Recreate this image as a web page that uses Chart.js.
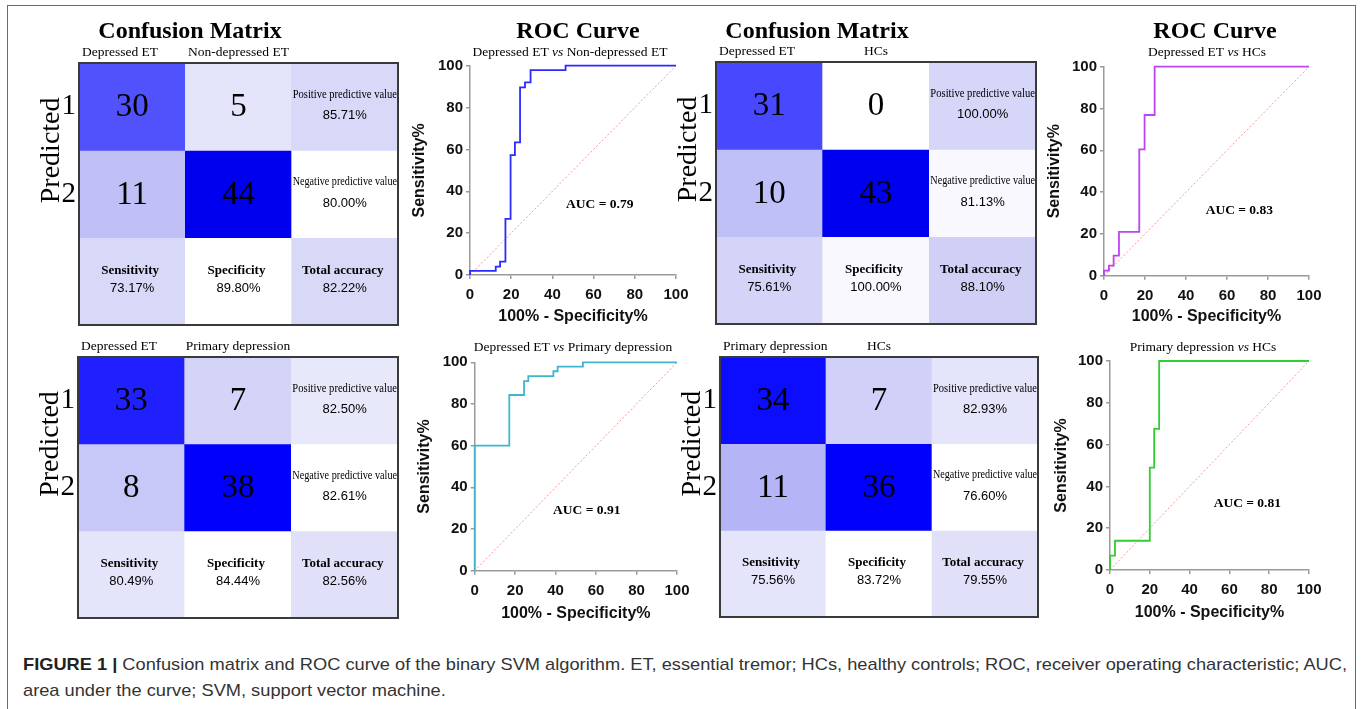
<!DOCTYPE html>
<html>
<head>
<meta charset="utf-8">
<title>Confusion matrix and ROC curves</title>
<script src="https://cdn.jsdelivr.net/npm/chart.js@4.4.1/dist/chart.umd.min.js"></script>
<style>
  html, body { margin: 0; padding: 0; background: #fff; }
  #stage { position: relative; width: 1363px; height: 709px; overflow: hidden; background: #fff; }
  #stage canvas { position: absolute; left: 0; top: 0; pointer-events: none; }
  #frame { position: absolute; left: 7px; top: 5px; width: 1349px; height: 730px;
           border: 1.5px solid #6b6b6b; box-sizing: border-box; }
  .caption { position: absolute; left: 23px; font-family: "Liberation Sans", Arial, Helvetica, sans-serif;
             font-size: 17px; line-height: 20px; color: #333; white-space: nowrap; transform-origin: 0 50%; }
  .caption b { color: #222; }
</style>
</head>
<body>
<div id="stage">
  <div id="frame"></div>
  <div class="caption" id="cap1" style="top:655px"><b>FIGURE 1 |</b> Confusion matrix and ROC curve of the binary SVM algorithm. ET, essential tremor; HCs, healthy controls; ROC, receiver operating characteristic; AUC,</div>
  <div class="caption" id="cap2" style="top:681px">area under the curve; SVM, support vector machine.</div>
</div>
<script>
// ---------- data ----------
const metricNames = ["Positive predictive value", "Negative predictive value", "Sensitivity", "Specificity", "Total accuracy"];
const predictedRows = ["1", "2"];

const cm1Classes = ["Depressed ET", "Non-depressed ET"];
const cm1Counts = [[30, 5], [11, 44]];
const cm1Metrics = ["85.71%", "80.00%", "73.17%", "89.80%", "82.22%"];

const cm2Classes = ["Depressed ET", "HCs"];
const cm2Counts = [[31, 0], [10, 43]];
const cm2Metrics = ["100.00%", "81.13%", "75.61%", "100.00%", "88.10%"];

const cm3Classes = ["Depressed ET", "Primary depression"];
const cm3Counts = [[33, 7], [8, 38]];
const cm3Metrics = ["82.50%", "82.61%", "80.49%", "84.44%", "82.56%"];

const cm4Classes = ["Primary depression", "HCs"];
const cm4Counts = [[34, 7], [11, 36]];
const cm4Metrics = ["82.93%", "76.60%", "75.56%", "83.72%", "79.55%"];

// ROC operating points (100% - specificity, sensitivity), in order
const roc1Groups = ["Depressed ET", "Non-depressed ET"];
const roc1Fpr = [0, 0, 12.5, 14.6, 17.2, 19.7, 21.8, 24.3, 26.7, 29.4, 46.4, 100];
const roc1Tpr = [0, 2, 4, 6.4, 26.8, 57.3, 63.4, 89.6, 92, 97.9, 100, 100];
const roc1Auc = 0.79;

const roc2Groups = ["Depressed ET", "HCs"];
const roc2Fpr = [0, 0, 2.4, 4.7, 7.3, 17.2, 19.8, 24.7, 100];
const roc2Tpr = [0, 2.4, 4.8, 9.6, 21, 60.4, 76.9, 100, 100];
const roc2Auc = 0.83;

const roc3Groups = ["Depressed ET", "Primary depression"];
const roc3Fpr = [0, 0, 17.1, 24.4, 26.5, 38.9, 41, 53.5, 100];
const roc3Tpr = [0, 60, 84.3, 91, 93.4, 95.7, 97.9, 100, 100];
const roc3Auc = 0.91;

const roc4Groups = ["Primary depression", "HCs"];
const roc4Fpr = [0, 0, 2.5, 20, 22.2, 24.7, 100];
const roc4Tpr = [0, 6.9, 14, 49, 67.5, 100, 100];
const roc4Auc = 0.81;

const chanceLine = [0, 100];

// ---------- styles & layout ----------
const SERIF = '"Liberation Serif", "Times New Roman", Times, serif';
const SANS = '"Liberation Sans", Arial, Helvetica, sans-serif';
const W = 1363, H = 709;

const cm1Fill = [["#5252fd", "#e4e4fa", "#d8d8f8"], ["#c0c0f7", "#0000ef", "#ffffff"], ["#d8d8f9", "#ffffff", "#d8d8f7"]];
const cm2Fill = [["#4848fe", "#ffffff", "#d6d6f8"], ["#c0c0f8", "#0000f0", "#f8f8fe"], ["#d4d4f8", "#f8f8fe", "#d0d0f6"]];
const cm3Fill = [["#2020fe", "#d4d4f8", "#e8e8fb"], ["#c8c8f8", "#0000fc", "#ffffff"], ["#e4e4fa", "#ffffff", "#e0e0f8"]];
const cm4Fill = [["#0c0cfe", "#d0d0f8", "#e4e4fa"], ["#b4b4f6", "#0000fc", "#ffffff"], ["#e4e4fa", "#ffffff", "#e0e0f8"]];

const CM_YW = 40, CM_XH = 22;
const cmPanels = [
  { classes: cm1Classes, counts: cm1Counts, metrics: cm1Metrics, fill: cm1Fill, box: [79, 63, 398, 325], title: [190, 32] },
  { classes: cm2Classes, counts: cm2Counts, metrics: cm2Metrics, fill: cm2Fill, box: [716, 62, 1036, 324], title: [817, 32] },
  { classes: cm3Classes, counts: cm3Counts, metrics: cm3Metrics, fill: cm3Fill, box: [78, 357, 398, 618] },
  { classes: cm4Classes, counts: cm4Counts, metrics: cm4Metrics, fill: cm4Fill, box: [720, 357, 1038, 617] }
];

const rocPanels = [
  { groups: roc1Groups, fpr: roc1Fpr, tpr: roc1Tpr, auc: roc1Auc, color: "#2b2bff",
    box: [470, 65.7, 676, 275], yTitleX: 420, xTitleY: 317, title: [578, 32], sub: [570, 52], aucAt: [63, 33.5] },
  { groups: roc2Groups, fpr: roc2Fpr, tpr: roc2Tpr, auc: roc2Auc, color: "#bb44f4",
    box: [1104, 66.7, 1309, 275.7], yTitleX: 1055, xTitleY: 317, title: [1215, 32], sub: [1207, 52], aucAt: [66, 31.4] },
  { groups: roc3Groups, fpr: roc3Fpr, tpr: roc3Tpr, auc: roc3Auc, color: "#3fb6cf",
    box: [474.7, 362.3, 677, 570.7], yTitleX: 425, xTitleY: 614, sub: [573, 347], aucAt: [55.4, 29] },
  { groups: roc4Groups, fpr: roc4Fpr, tpr: roc4Tpr, auc: roc4Auc, color: "#2fcf2f",
    box: [1110, 361, 1309, 570], yTitleX: 1062, xTitleY: 613, sub: [1203, 347], aucAt: [69, 32] }
];

const stage = document.getElementById('stage');
function newCanvas() {
  const c = document.createElement('canvas');
  c.width = W; c.height = H;
  c.style.width = W + 'px'; c.style.height = H + 'px';
  stage.appendChild(c);
  return c;
}

const baseOptions = () => ({
  responsive: false, animation: false, events: [], devicePixelRatio: 1,
  plugins: { legend: { display: false }, tooltip: { enabled: false }, title: { display: false } }
});

// ---------- confusion matrices ----------
function cmTextPlugin(p) {
  return {
    id: 'cmText',
    afterDatasetsDraw(chart) {
      const { ctx, chartArea: a } = chart;
      ctx.save();
      ctx.fillStyle = '#000';
      ctx.textAlign = 'center';
      ctx.textBaseline = 'middle';
      for (let r = 0; r < 3; r++) {
        const meta = chart.getDatasetMeta(r);
        for (let c = 0; c < 3; c++) {
          const el = meta.data[c];
          const { x, y, base, width } = el.getProps(['x', 'y', 'base', 'width'], true);
          const cy = (y + base) / 2;
          if (r < 2 && c < 2) {
            ctx.font = `33px ${SERIF}`;
            ctx.fillText(String(p.counts[r][c]), x, cy + 1);
          } else if (r < 2) {
            ctx.font = `12.5px ${SERIF}`;
            ctx.fillText(metricNames[r], x, cy - 12, width - 2);
            ctx.font = `13px ${SANS}`;
            ctx.fillText(p.metrics[r], x, cy + 9);
          } else {
            ctx.font = `bold 13px ${SERIF}`;
            ctx.fillText(metricNames[2 + c], x - 2, cy - 11);
            ctx.font = `13px ${SANS}`;
            ctx.fillText(p.metrics[2 + c], x, cy + 7);
          }
        }
      }
      // class headers: first column flush left, second centred
      const meta0 = chart.getDatasetMeta(0);
      ctx.font = `13.5px ${SERIF}`;
      p.classes.forEach((name, c) => {
        const { x, width } = meta0.data[c].getProps(['x', 'width'], true);
        if (c === 0) {
          ctx.textAlign = 'left';
          ctx.fillText(name, x - width / 2 + 3, a.top - 11);
        } else {
          ctx.textAlign = 'center';
          ctx.fillText(name, x, a.top - 11);
        }
      });
      ctx.textAlign = 'center';
      // outline of the matrix
      ctx.strokeStyle = '#3a3a3a';
      ctx.lineWidth = 2;
      ctx.strokeRect(a.left, a.top, a.right - a.left, a.bottom - a.top);
      // "Predicted" label centred on the two prediction rows
      const yMid = chart.scales.y.getPixelForValue(1);
      ctx.save();
      ctx.translate(a.left - 27, yMid);
      ctx.rotate(-Math.PI / 2);
      ctx.font = `28px ${SERIF}`;
      ctx.fillText('Predicted', 0, 0);
      ctx.restore();
      if (p.title) {
        ctx.font = `bold 24px ${SERIF}`;
        ctx.fillText('Confusion Matrix', p.title[0], p.title[1]);
      }
      ctx.restore();
    }
  };
}

function makeConfusion(p) {
  const opts = baseOptions();
  opts.layout = { padding: { left: p.box[0] - CM_YW, top: p.box[1] - CM_XH, right: W - p.box[2], bottom: H - p.box[3] } };
  opts.scales = {
    x: {
      stacked: true, position: 'top', offset: true,
      grid: { display: false, drawTicks: false }, border: { display: false },
      ticks: { display: false },
      afterFit(s) { s.height = CM_XH; }
    },
    y: {
      stacked: true, min: 0, max: 3, reverse: true,
      grid: { display: false, drawTicks: false }, border: { display: false },
      afterBuildTicks(s) { s.ticks = predictedRows.map((_, i) => ({ value: i + 0.5 })); },
      ticks: { color: '#000', font: { family: SERIF, size: 29 }, padding: 3,
               callback: (v) => predictedRows[Math.floor(v)] },
      afterFit(s) { s.width = CM_YW; }
    }
  };
  const rows = [0, 1, 2];
  new Chart(newCanvas(), {
    type: 'bar',
    data: {
      labels: [...p.classes, ''],
      datasets: rows.map(r => ({
        data: [1, 1, 1],
        backgroundColor: p.fill[r],
        borderWidth: 0,
        barPercentage: 1,
        categoryPercentage: 1
      }))
    },
    options: opts,
    plugins: [cmTextPlugin(p)]
  });
}

// ---------- ROC curves ----------
function rocTextPlugin(p) {
  return {
    id: 'rocText',
    afterDraw(chart) {
      const { ctx, scales: { x, y } } = chart;
      ctx.save();
      ctx.fillStyle = '#000';
      ctx.textBaseline = 'middle';
      ctx.textAlign = 'center';
      if (p.title) {
        ctx.font = `bold 24px ${SERIF}`;
        ctx.fillText('ROC Curve', p.title[0], p.title[1]);
      }
      // subtitle with an italic "vs"
      const parts = [[p.groups[0] + ' ', ''], ['vs', 'italic '], [' ' + p.groups[1], '']];
      let total = 0;
      parts.forEach(([t, st]) => { ctx.font = `${st}13.5px ${SERIF}`; total += ctx.measureText(t).width; });
      let cx = p.sub[0] - total / 2;
      ctx.textAlign = 'left';
      parts.forEach(([t, st]) => {
        ctx.font = `${st}13.5px ${SERIF}`;
        ctx.fillText(t, cx, p.sub[1]);
        cx += ctx.measureText(t).width;
      });
      ctx.textAlign = 'center';
      ctx.font = `bold 13.5px ${SERIF}`;
      ctx.fillText(`AUC = ${p.auc.toFixed(2)}`, x.getPixelForValue(p.aucAt[0]), y.getPixelForValue(p.aucAt[1]));
      ctx.restore();
    }
  };
}

function makeRoc(p) {
  const tickFont = { family: SANS, size: 15, weight: 'bold' };
  const titleFont = { family: SANS, size: 16, weight: 'bold' };
  const half = titleFont.size * 0.6;
  const yW = p.box[0] - (p.yTitleX - half);
  const xH = (p.xTitleY + half) - p.box[3];
  const axisGrey = '#9a9a9a';
  const opts = baseOptions();
  opts.layout = { padding: { left: p.box[0] - yW, top: p.box[1], right: W - p.box[2], bottom: H - p.box[3] - xH } };
  const axis = (title, pad, fit) => ({
    type: 'linear', min: 0, max: 100,
    ticks: { stepSize: 20, color: '#111', font: tickFont, padding: pad, maxRotation: 0, autoSkip: false },
    grid: { drawOnChartArea: false, drawTicks: true, tickLength: 4, color: axisGrey, lineWidth: 1.5 },
    border: { display: true, color: axisGrey, width: 1.5 },
    title: { display: true, text: title, color: '#111', font: titleFont, padding: 0 },
    afterFit: fit
  });
  opts.scales = {
    x: axis('100% - Specificity%', 7, s => { s.height = xH; }),
    y: axis('Sensitivity%', 3, s => { s.width = yW; })
  };
  new Chart(newCanvas(), {
    type: 'scatter',
    data: {
      datasets: [
        { data: p.fpr.map((v, i) => ({ x: v, y: p.tpr[i] })), showLine: true, stepped: 'before',
          borderColor: p.color, borderWidth: 1.8, pointRadius: 0, fill: false, clip: false },
        { data: chanceLine.map(v => ({ x: v, y: v })), showLine: true,
          borderColor: '#f29a9a', borderWidth: 1, borderDash: [2, 2], pointRadius: 0, fill: false }
      ]
    },
    options: opts,
    plugins: [rocTextPlugin(p)]
  });
}

cmPanels.forEach(makeConfusion);
rocPanels.forEach(makeRoc);

// caption: condensed to span the figure width
(function fitCaption() {
  const c1 = document.getElementById('cap1');
  const c2 = document.getElementById('cap2');
  const k = 1324 / c1.getBoundingClientRect().width;
  [c1, c2].forEach(el => { el.style.transform = `scaleX(${k})`; });
})();
</script>
</body>
</html>
